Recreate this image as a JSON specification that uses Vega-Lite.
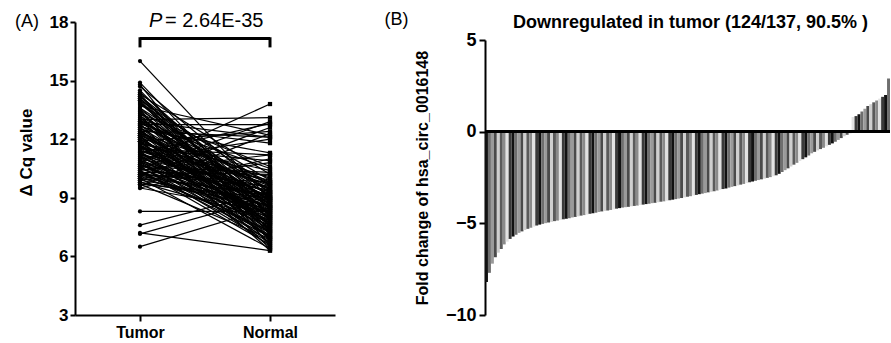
{
  "$schema": "https://vega.github.io/schema/vega-lite/v6.json",
  "background": "white",
  "padding": {"left": 15, "top": 10, "right": 0, "bottom": 0},
  "spacing": 49,
  "config": {
    "font": "Liberation Sans",
    "view": {"stroke": null},
    "axis": {
      "grid": false,
      "domainColor": "black",
      "domainWidth": 2,
      "tickColor": "black",
      "tickWidth": 2,
      "tickSize": 5,
      "labelColor": "black",
      "labelFont": "Liberation Sans",
      "labelFontWeight": "bold",
      "labelFontSize": 17,
      "titleColor": "black",
      "titleFont": "Liberation Sans",
      "titleFontWeight": "bold",
      "titleFontSize": 17
    },
    "title": {"font": "Liberation Sans", "color": "black"}
  },
  "datasets": {
    "pairs": [
      {"id":1,"Tumor":16.0,"Normal":8.9},{"id":2,"Tumor":14.9,"Normal":8.0},{"id":3,"Tumor":14.8,"Normal":6.5},
      {"id":4,"Tumor":14.7,"Normal":9.2},{"id":5,"Tumor":14.5,"Normal":7.8},{"id":6,"Tumor":14.4,"Normal":8.6},
      {"id":7,"Tumor":14.3,"Normal":10.2},{"id":8,"Tumor":14.3,"Normal":7.1},{"id":9,"Tumor":14.2,"Normal":9.0},
      {"id":10,"Tumor":14.1,"Normal":8.4},{"id":11,"Tumor":14.0,"Normal":6.8},{"id":12,"Tumor":14.0,"Normal":9.6},
      {"id":13,"Tumor":13.9,"Normal":7.5},{"id":14,"Tumor":13.8,"Normal":8.8},{"id":15,"Tumor":13.7,"Normal":12.2},
      {"id":16,"Tumor":13.6,"Normal":7.9},{"id":17,"Tumor":13.5,"Normal":9.3},{"id":18,"Tumor":13.5,"Normal":6.6},
      {"id":19,"Tumor":13.4,"Normal":8.2},{"id":20,"Tumor":13.3,"Normal":10.6},{"id":21,"Tumor":13.2,"Normal":7.4},
      {"id":22,"Tumor":13.2,"Normal":9.1},{"id":23,"Tumor":13.1,"Normal":8.5},{"id":24,"Tumor":13.0,"Normal":13.1},
      {"id":25,"Tumor":13.0,"Normal":7.0},{"id":26,"Tumor":12.9,"Normal":9.8},{"id":27,"Tumor":12.9,"Normal":8.1},
      {"id":28,"Tumor":12.8,"Normal":6.4},{"id":29,"Tumor":12.75,"Normal":12.75},{"id":30,"Tumor":12.7,"Normal":9.4},
      {"id":31,"Tumor":12.6,"Normal":7.7},{"id":32,"Tumor":12.6,"Normal":8.7},{"id":33,"Tumor":12.5,"Normal":11.3},
      {"id":34,"Tumor":12.5,"Normal":6.9},{"id":35,"Tumor":12.4,"Normal":9.0},{"id":36,"Tumor":12.4,"Normal":8.3},
      {"id":37,"Tumor":12.3,"Normal":7.3},{"id":38,"Tumor":12.3,"Normal":10.0},{"id":39,"Tumor":12.2,"Normal":8.9},
      {"id":40,"Tumor":12.2,"Normal":6.3},{"id":41,"Tumor":12.1,"Normal":9.5},{"id":42,"Tumor":12.1,"Normal":7.6},
      {"id":43,"Tumor":12.0,"Normal":8.6},{"id":44,"Tumor":11.9,"Normal":12.4},{"id":45,"Tumor":11.9,"Normal":7.2},
      {"id":46,"Tumor":11.9,"Normal":9.2},{"id":47,"Tumor":11.8,"Normal":8.0},{"id":48,"Tumor":11.8,"Normal":10.4},
      {"id":49,"Tumor":11.7,"Normal":6.7},{"id":50,"Tumor":11.7,"Normal":8.8},{"id":51,"Tumor":11.6,"Normal":9.7},
      {"id":52,"Tumor":11.6,"Normal":7.8},{"id":53,"Tumor":11.5,"Normal":11.2},{"id":54,"Tumor":11.5,"Normal":8.4},
      {"id":55,"Tumor":11.4,"Normal":6.5},{"id":56,"Tumor":11.4,"Normal":9.1},{"id":57,"Tumor":11.3,"Normal":7.5},
      {"id":58,"Tumor":11.3,"Normal":8.7},{"id":59,"Tumor":11.2,"Normal":10.1},{"id":60,"Tumor":11.2,"Normal":7.0},
      {"id":61,"Tumor":11.1,"Normal":9.3},{"id":62,"Tumor":11.1,"Normal":8.2},{"id":63,"Tumor":11.0,"Normal":12.0},
      {"id":64,"Tumor":11.0,"Normal":7.4},{"id":65,"Tumor":10.9,"Normal":8.9},{"id":66,"Tumor":10.9,"Normal":6.8},
      {"id":67,"Tumor":10.8,"Normal":13.8},{"id":68,"Tumor":10.8,"Normal":9.0},{"id":69,"Tumor":10.7,"Normal":7.7},
      {"id":70,"Tumor":10.7,"Normal":8.5},{"id":71,"Tumor":10.6,"Normal":10.3},{"id":72,"Tumor":10.6,"Normal":7.1},
      {"id":73,"Tumor":10.5,"Normal":9.4},{"id":74,"Tumor":10.5,"Normal":8.1},{"id":75,"Tumor":10.4,"Normal":6.6},
      {"id":76,"Tumor":10.4,"Normal":11.2},{"id":77,"Tumor":10.3,"Normal":8.6},{"id":78,"Tumor":10.3,"Normal":7.3},
      {"id":79,"Tumor":10.2,"Normal":9.8},{"id":80,"Tumor":10.2,"Normal":8.0},{"id":81,"Tumor":10.1,"Normal":12.6},
      {"id":82,"Tumor":10.1,"Normal":7.6},{"id":83,"Tumor":10.0,"Normal":9.2},{"id":84,"Tumor":10.0,"Normal":6.4},
      {"id":85,"Tumor":9.9,"Normal":8.8},{"id":86,"Tumor":9.9,"Normal":10.8},{"id":87,"Tumor":9.8,"Normal":7.9},
      {"id":88,"Tumor":9.7,"Normal":9.0},{"id":89,"Tumor":9.6,"Normal":12.3},{"id":90,"Tumor":9.5,"Normal":8.3},
      {"id":91,"Tumor":9.5,"Normal":11.0},{"id":92,"Tumor":14.2,"Normal":8.1},{"id":93,"Tumor":13.8,"Normal":9.9},
      {"id":94,"Tumor":13.4,"Normal":7.2},{"id":95,"Tumor":13.0,"Normal":8.9},{"id":96,"Tumor":12.8,"Normal":10.5},
      {"id":97,"Tumor":12.5,"Normal":7.4},{"id":98,"Tumor":12.2,"Normal":9.6},{"id":99,"Tumor":11.9,"Normal":6.9},
      {"id":100,"Tumor":11.6,"Normal":8.5},{"id":101,"Tumor":11.3,"Normal":12.8},{"id":102,"Tumor":11.0,"Normal":9.5},
      {"id":103,"Tumor":10.7,"Normal":8.2},{"id":104,"Tumor":10.4,"Normal":7.0},{"id":105,"Tumor":10.1,"Normal":9.1},
      {"id":106,"Tumor":12.9,"Normal":12.1},{"id":107,"Tumor":12.3,"Normal":8.7},{"id":108,"Tumor":11.7,"Normal":7.9},
      {"id":109,"Tumor":11.2,"Normal":9.3},{"id":110,"Tumor":10.6,"Normal":6.7},{"id":111,"Tumor":10.0,"Normal":8.4},
      {"id":112,"Tumor":13.6,"Normal":9.4},{"id":113,"Tumor":13.1,"Normal":7.6},{"id":114,"Tumor":12.6,"Normal":11.8},
      {"id":115,"Tumor":12.0,"Normal":8.0},{"id":116,"Tumor":11.4,"Normal":9.9},{"id":117,"Tumor":10.8,"Normal":7.2},
      {"id":118,"Tumor":10.3,"Normal":10.2},{"id":119,"Tumor":9.8,"Normal":8.6},{"id":120,"Tumor":14.1,"Normal":7.3},
      {"id":121,"Tumor":13.3,"Normal":8.8},{"id":122,"Tumor":12.7,"Normal":9.7},{"id":123,"Tumor":12.1,"Normal":7.7},
      {"id":124,"Tumor":11.5,"Normal":10.9},{"id":125,"Tumor":10.9,"Normal":8.3},{"id":126,"Tumor":10.2,"Normal":9.6},
      {"id":127,"Tumor":9.7,"Normal":6.9},{"id":128,"Tumor":8.3,"Normal":8.3},{"id":129,"Tumor":7.6,"Normal":9.3},
      {"id":130,"Tumor":7.2,"Normal":6.3},{"id":131,"Tumor":7.15,"Normal":9.0},{"id":132,"Tumor":6.5,"Normal":8.5},
      {"id":133,"Tumor":13.9,"Normal":8.5},{"id":134,"Tumor":12.4,"Normal":12.1},{"id":135,"Tumor":11.8,"Normal":9.8},
      {"id":136,"Tumor":11.1,"Normal":7.8},{"id":137,"Tumor":10.5,"Normal":12.9}
    ],
    "fold": [
      {"rank":1,"fc":-8.2},{"rank":2,"fc":-7.7},{"rank":3,"fc":-7.2},{"rank":4,"fc":-6.85},{"rank":5,"fc":-6.6},
      {"rank":6,"fc":-6.4},{"rank":7,"fc":-6.15},{"rank":8,"fc":-6.0},{"rank":9,"fc":-5.85},{"rank":10,"fc":-5.72},
      {"rank":11,"fc":-5.62},{"rank":12,"fc":-5.52},{"rank":13,"fc":-5.44},{"rank":14,"fc":-5.36},{"rank":15,"fc":-5.3},
      {"rank":16,"fc":-5.24},{"rank":17,"fc":-5.18},{"rank":18,"fc":-5.12},{"rank":19,"fc":-5.07},{"rank":20,"fc":-5.03},
      {"rank":21,"fc":-4.99},{"rank":22,"fc":-4.95},{"rank":23,"fc":-4.92},{"rank":24,"fc":-4.88},{"rank":25,"fc":-4.85},
      {"rank":26,"fc":-4.82},{"rank":27,"fc":-4.78},{"rank":28,"fc":-4.75},{"rank":29,"fc":-4.72},{"rank":30,"fc":-4.68},
      {"rank":31,"fc":-4.65},{"rank":32,"fc":-4.62},{"rank":33,"fc":-4.58},{"rank":34,"fc":-4.55},{"rank":35,"fc":-4.52},
      {"rank":36,"fc":-4.48},{"rank":37,"fc":-4.45},{"rank":38,"fc":-4.42},{"rank":39,"fc":-4.38},{"rank":40,"fc":-4.35},
      {"rank":41,"fc":-4.32},{"rank":42,"fc":-4.3},{"rank":43,"fc":-4.27},{"rank":44,"fc":-4.24},{"rank":45,"fc":-4.2},
      {"rank":46,"fc":-4.17},{"rank":47,"fc":-4.14},{"rank":48,"fc":-4.12},{"rank":49,"fc":-4.1},{"rank":50,"fc":-4.07},
      {"rank":51,"fc":-4.05},{"rank":52,"fc":-4.03},{"rank":53,"fc":-4.0},{"rank":54,"fc":-3.98},{"rank":55,"fc":-3.95},
      {"rank":56,"fc":-3.93},{"rank":57,"fc":-3.9},{"rank":58,"fc":-3.88},{"rank":59,"fc":-3.85},{"rank":60,"fc":-3.82},
      {"rank":61,"fc":-3.8},{"rank":62,"fc":-3.77},{"rank":63,"fc":-3.74},{"rank":64,"fc":-3.71},{"rank":65,"fc":-3.68},
      {"rank":66,"fc":-3.65},{"rank":67,"fc":-3.62},{"rank":68,"fc":-3.58},{"rank":69,"fc":-3.55},{"rank":70,"fc":-3.52},
      {"rank":71,"fc":-3.48},{"rank":72,"fc":-3.45},{"rank":73,"fc":-3.41},{"rank":74,"fc":-3.38},{"rank":75,"fc":-3.35},
      {"rank":76,"fc":-3.31},{"rank":77,"fc":-3.28},{"rank":78,"fc":-3.25},{"rank":79,"fc":-3.21},{"rank":80,"fc":-3.17},
      {"rank":81,"fc":-3.13},{"rank":82,"fc":-3.1},{"rank":83,"fc":-3.05},{"rank":84,"fc":-3.01},{"rank":85,"fc":-2.97},
      {"rank":86,"fc":-2.93},{"rank":87,"fc":-2.89},{"rank":88,"fc":-2.85},{"rank":89,"fc":-2.8},{"rank":90,"fc":-2.76},
      {"rank":91,"fc":-2.72},{"rank":92,"fc":-2.68},{"rank":93,"fc":-2.64},{"rank":94,"fc":-2.6},{"rank":95,"fc":-2.56},
      {"rank":96,"fc":-2.52},{"rank":97,"fc":-2.48},{"rank":98,"fc":-2.43},{"rank":99,"fc":-2.38},{"rank":100,"fc":-2.3},
      {"rank":101,"fc":-2.2},{"rank":102,"fc":-2.1},{"rank":103,"fc":-2.0},{"rank":104,"fc":-1.9},{"rank":105,"fc":-1.8},
      {"rank":106,"fc":-1.7},{"rank":107,"fc":-1.6},{"rank":108,"fc":-1.5},{"rank":109,"fc":-1.4},{"rank":110,"fc":-1.3},
      {"rank":111,"fc":-1.18},{"rank":112,"fc":-1.1},{"rank":113,"fc":-1.02},{"rank":114,"fc":-0.95},{"rank":115,"fc":-0.88},
      {"rank":116,"fc":-0.8},{"rank":117,"fc":-0.72},{"rank":118,"fc":-0.64},{"rank":119,"fc":-0.55},{"rank":120,"fc":-0.45},
      {"rank":121,"fc":-0.35},{"rank":122,"fc":-0.25},{"rank":123,"fc":-0.17},{"rank":124,"fc":-0.08},{"rank":125,"fc":0.8},
      {"rank":126,"fc":0.85},{"rank":127,"fc":0.95},{"rank":128,"fc":1.1},{"rank":129,"fc":1.25},{"rank":130,"fc":1.4},
      {"rank":131,"fc":1.5},{"rank":132,"fc":1.6},{"rank":133,"fc":1.7},{"rank":134,"fc":1.8},{"rank":135,"fc":1.9},
      {"rank":136,"fc":2.0},{"rank":137,"fc":2.9}
    ]
  },
  "hconcat": [
    {
      "title": {"text": "(A)", "anchor": "start", "frame": "bounds", "fontSize": 18, "fontWeight": "normal", "dx": -2, "dy": 24},
      "width": 260,
      "height": 293,
      "layer": [
        {
          "data": {"name": "pairs"},
          "transform": [{"fold": ["Tumor", "Normal"], "as": ["group", "dcq"]}],
          "mark": {"type": "line", "color": "black", "strokeWidth": 1.2},
          "encoding": {
            "x": {"field": "group", "type": "nominal", "scale": {"type": "point", "padding": 0.5, "domain": ["Tumor", "Normal"]},
                  "axis": {"title": null, "labelAngle": 0, "labelPadding": 3, "tickSize": 6, "labelFontSize": 16}},
            "y": {"field": "dcq", "type": "quantitative", "scale": {"domain": [3, 18], "nice": false},
                  "axis": {"values": [3, 6, 9, 12, 15, 18], "title": "Δ Cq value", "titlePadding": 14, "labelPadding": 2, "titleY": 130}},
            "detail": {"field": "id", "type": "nominal"}
          }
        },
        {
          "data": {"name": "pairs"},
          "transform": [{"fold": ["Tumor", "Normal"], "as": ["group", "dcq"]}],
          "mark": {"type": "point", "filled": true, "color": "black", "size": 18, "opacity": 1},
          "encoding": {
            "x": {"field": "group", "type": "nominal"},
            "y": {"field": "dcq", "type": "quantitative"},
            "shape": {"field": "group", "type": "nominal", "scale": {"domain": ["Tumor", "Normal"], "range": ["circle", "square"]}, "legend": null}
          }
        },
        {
          "data": {"values": [{"a": 1}]},
          "mark": {"type": "rule", "color": "black", "strokeWidth": 3},
          "encoding": {"x": {"datum": "Tumor"}, "x2": {"datum": "Normal"}, "y": {"datum": 17.15}}
        },
        {
          "data": {"values": [{"g": "Tumor"}, {"g": "Normal"}]},
          "mark": {"type": "rule", "color": "black", "strokeWidth": 3},
          "encoding": {"x": {"field": "g", "type": "nominal"}, "y": {"datum": 17.22}, "y2": {"datum": 16.7}}
        },
        {
          "data": {"values": [{"t": "P"}]},
          "mark": {"type": "text", "font": "Liberation Sans", "fontSize": 20, "fontStyle": "italic", "align": "left", "baseline": "alphabetic", "dx": 9, "color": "black"},
          "encoding": {"x": {"datum": "Tumor"}, "y": {"datum": 17.75}, "text": {"field": "t"}}
        },
        {
          "data": {"values": [{"t": "= 2.64E-35"}]},
          "mark": {"type": "text", "font": "Liberation Sans", "fontSize": 20, "align": "left", "baseline": "alphabetic", "dx": 25, "color": "black"},
          "encoding": {"x": {"datum": "Tumor"}, "y": {"datum": 17.75}, "text": {"field": "t"}}
        }
      ]
    },
    {
      "title": {"text": "(B)", "anchor": "start", "frame": "bounds", "fontSize": 18, "fontWeight": "normal", "dx": -30, "dy": 19},
      "width": 405,
      "height": 293,
      "data": {"name": "fold"},
      "layer": [
        {
          "mark": {"type": "bar"},
          "encoding": {
            "x": {"field": "rank", "type": "ordinal", "scale": {"paddingInner": 0, "paddingOuter": 0}, "axis": null},
            "y": {"field": "fc", "type": "quantitative", "scale": {"domain": [-10, 5], "nice": false, "range": [293, 18]},
                  "axis": {"values": [-10, -5, 0, 5], "title": "Fold change of hsa_circ_0016148", "titleFontSize": 16, "titlePadding": 15,
                           "labelFontSize": 18, "tickSize": 6, "labelPadding": 3}},
            "color": {"field": "rank", "type": "nominal", "legend": null,
                      "scale": {"range": ["#111111", "#6e6e6e", "#9a9a9a", "#4a4a4a", "#cfcfcf", "#5a5a5a", "#8a8a8a", "#e2e2e2", "#3a3a3a"]}}
          }
        },
        {
          "mark": {"type": "rule", "color": "black", "strokeWidth": 2},
          "encoding": {"y": {"datum": 0}}
        },
        {
          "data": {"values": [{"t": "Downregulated in tumor (124/137, 90.5% )"}]},
          "mark": {"type": "text", "font": "Liberation Sans", "fontSize": 18, "fontWeight": "bold", "align": "center", "baseline": "alphabetic", "color": "black"},
          "encoding": {"x": {"datum": 70, "type": "ordinal"}, "y": {"datum": 5.65}, "text": {"field": "t"}}
        }
      ]
    }
  ]
}
